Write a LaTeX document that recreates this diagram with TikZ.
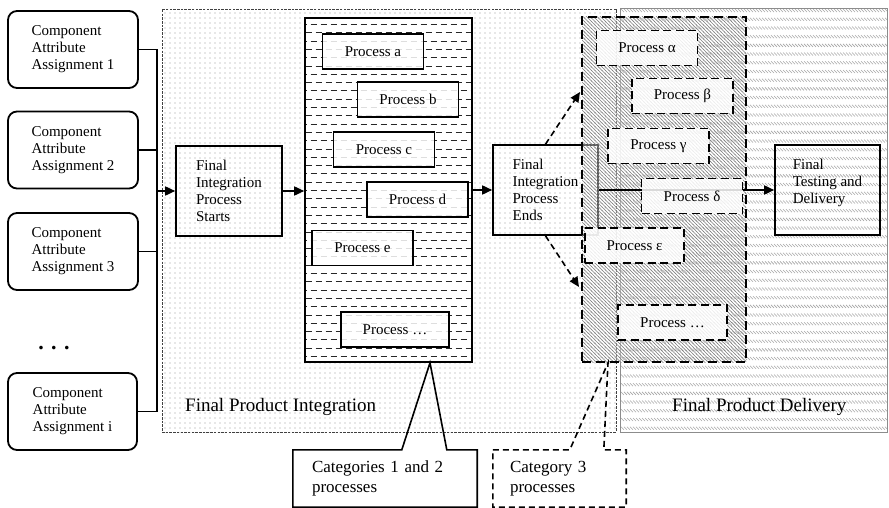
\documentclass[tikz,border=0pt]{standalone}
\usepackage{fontspec}
\setmainfont{Liberation Serif}
\usetikzlibrary{arrows.meta,patterns,calc}

% fine dot grid for the integration area
\pgfdeclarepatternformonly{fpidots}{\pgfqpoint{-1pt}{-1pt}}{\pgfqpoint{1pt}{1pt}}{\pgfqpoint{5pt}{5pt}}%
{\pgfpathcircle{\pgfqpoint{0pt}{0pt}}{0.6pt}\pgfusepath{fill}}
% rows of short slanted strokes for the delivery area
\pgfdeclarepatternformonly{fpdrows}{\pgfqpoint{-0.5pt}{-0.5pt}}{\pgfqpoint{3.5pt}{3.5pt}}{\pgfqpoint{3pt}{8.7pt}}%
{\pgfsetlinewidth{0.55pt}\pgfpathmoveto{\pgfqpoint{0pt}{3pt}}\pgfpathlineto{\pgfqpoint{3pt}{0pt}}\pgfusepath{stroke}}
% staggered horizontal dashes for categories 1 and 2
\pgfdeclarepatternformonly{cattwodash}{\pgfqpoint{-0.5pt}{-0.5pt}}{\pgfqpoint{10.5pt}{17pt}}{\pgfqpoint{10pt}{16.6pt}}%
{\pgfsetlinewidth{1pt}%
 \pgfpathmoveto{\pgfqpoint{0.5pt}{2pt}}\pgfpathlineto{\pgfqpoint{6.5pt}{2pt}}%
 \pgfpathmoveto{\pgfqpoint{5.5pt}{10.3pt}}\pgfpathlineto{\pgfqpoint{10pt}{10.3pt}}%
 \pgfpathmoveto{\pgfqpoint{0pt}{10.3pt}}\pgfpathlineto{\pgfqpoint{1.5pt}{10.3pt}}%
 \pgfusepath{stroke}}
% dense back-slanted hatch for category 3
\pgfdeclarepatternformonly{catthreehatch}{\pgfqpoint{-0.5pt}{-0.5pt}}{\pgfqpoint{4pt}{4pt}}{\pgfqpoint{3.5pt}{3.5pt}}%
{\pgfsetlinewidth{0.65pt}\pgfpathmoveto{\pgfqpoint{-0.5pt}{4pt}}\pgfpathlineto{\pgfqpoint{4pt}{-0.5pt}}\pgfusepath{stroke}}

\begin{document}
\begin{tikzpicture}[x=1pt,y=-1pt,
  txt/.style={font=\fontsize{15}{17}\selectfont, align=left, inner sep=0pt},
  compbox/.style={txt, draw, line width=1.8pt, rounded corners=9pt, minimum width=130, minimum height=77},
  plainbox/.style={txt, draw, line width=1.6pt, minimum width=106, minimum height=90},
  pbox/.style={txt, draw, line width=1.6pt, fill=white, fill opacity=0.85, text opacity=1,
               minimum width=101, minimum height=35},
  dpbox/.style={pbox, line width=1.8pt, dash pattern=on 8pt off 4.5pt},
  conn/.style={line width=1.6pt},
  arr/.style={conn, -{Triangle[length=10pt,width=9pt]}},
  darr/.style={arr, dash pattern=on 6pt off 4pt},
  bigtxt/.style={font=\fontsize{19}{22}\selectfont, inner sep=0pt, anchor=west},
  calltxt/.style={font=\fontsize{17}{20.5}\selectfont, align=left, inner ysep=0pt, minimum height=57}
]
\fill[white] (0,0) rectangle (889,508);
\useasboundingbox (0,0) rectangle (889,508);

% the two stage areas
\node[draw=black!75, line width=0.8pt, dash pattern=on 2.5pt off 1.2pt,
      pattern=fpidots, pattern color=black!40,
      minimum width=454, minimum height=423, inner sep=0pt] (fpi) at (389,220.5) {};
\node[draw=black!45, line width=0.8pt, pattern=fpdrows, pattern color=black!35,
      minimum width=267, minimum height=424, inner sep=0pt] (fpd) at (753.5,220) {};
\node[bigtxt] (fpilabel) at (185,407) {Final Product Integration};
\node[bigtxt] (fpdlabel) at (672,407) {Final Product Delivery};

% component attribute assignments
\node[compbox] (c1) at (73,49.5) {Component\\Attribute\\Assignment 1};
\node[compbox] (c2) at (73,150) {Component\\Attribute\\Assignment 2};
\node[compbox] (c3) at (73,251.5) {Component\\Attribute\\Assignment 3};
\node[compbox, minimum width=129] (ci) at (72.5,411.5) {Component\\Attribute\\Assignment i};
\node[font=\fontsize{22}{24}\selectfont\bfseries, inner sep=0pt, anchor=base] (more) at (54,349.5) {. . .};

% integration start
\node[plainbox] (start) at (229,191) {Final\\Integration\\Process\\Starts};
\coordinate (bus) at (157,191);
\draw[conn] (c1.east) -| (bus);
\draw[conn] (c2.east) -| (bus);
\draw[conn] (c3.east) -| (bus);
\draw[conn] (ci.east) -| (bus);
\draw[arr] (bus) -- (start.west);

% categories 1 and 2
\node[draw, line width=1.6pt, preaction={fill=white}, pattern=cattwodash, pattern color=black!85,
      minimum width=167, minimum height=344, inner sep=0pt] (cat12) at (388.5,190) {};
\node[pbox] (pa) at (373,51.5) {Process a};
\node[pbox] (pb) at (408,99.5) {Process b};
\node[pbox] (pc) at (384,149.5) {Process c};
\node[pbox] (pd) at (417.5,199.5) {Process d};
\node[pbox] (pe) at (362.5,248) {Process e};
\node[pbox, minimum width=108] (pmore) at (395,329.5) {Process \dots};

% integration end
\node[plainbox, minimum width=105] (ends) at (545.5,190) {Final\\Integration\\Process\\Ends};
\draw[arr] (start.east) -- (start.east -| cat12.west);
\draw[arr] (cat12.east |- ends.west) -- (ends.west);

% category 3
\node[draw, line width=1.8pt, dash pattern=on 9pt off 5pt,
      preaction={fill=white, fill opacity=0.35},
      pattern=catthreehatch, pattern color=black!50,
      minimum width=164, minimum height=345, inner sep=0pt] (cat3) at (664,189.5) {};

% final testing
\node[plainbox, minimum width=105] (ftd) at (827.5,190) {Final\\Testing and\\Delivery\\\mbox{}};
\draw[arr] (ends.east) -- (ftd.west);

\node[dpbox] (palpha) at (647,48) {Process α};
\node[dpbox] (pbeta) at (682.5,96) {Process β};
\node[dpbox] (pgamma) at (658.5,146) {Process γ};
\node[dpbox] (pdelta) at (692,196) {Process δ};
\node[dpbox, minimum width=99] (peps) at (634.5,245.5) {Process ε};
\node[dpbox, minimum width=109] (pdots) at (672.5,322.5) {Process \dots};

% dashed hand-off arrows
\coordinate (uptip) at (580,92);
\coordinate (downtip) at (579,287);
\draw[darr] (ends.north) -- (uptip);
\draw[darr] (ends.south) -- (downtip);

% callouts
\node[calltxt, text width=146, inner xsep=19] (call12) at (385,478.5) {Categories 1 and 2\\processes};
\coordinate (tip12) at ($(cat12.south)+(41.5,0)$);
\draw[line width=1.6pt, line join=miter]
  (call12.north west) -- ($(call12.north west)+(109,0)$) -- (tip12)
  -- ($(call12.north west)+(154,0)$) -- (call12.north east)
  -- (call12.south east) -- (call12.south west) -- cycle;

\node[calltxt, text width=99, inner xsep=17] (call3) at (559.5,478.5) {Category 3\\processes};
\coordinate (tip3) at ($(cat3.south)+(-56,0)$);
\draw[line width=1.6pt, dash pattern=on 6pt off 4pt]
  (call3.north west) -- ($(call3.north west)+(77,0)$) -- (tip3)
  -- ($(call3.north west)+(111,0)$) -- (call3.north east)
  -- (call3.south east) -- (call3.south west) -- cycle;
\end{tikzpicture}
\end{document}
